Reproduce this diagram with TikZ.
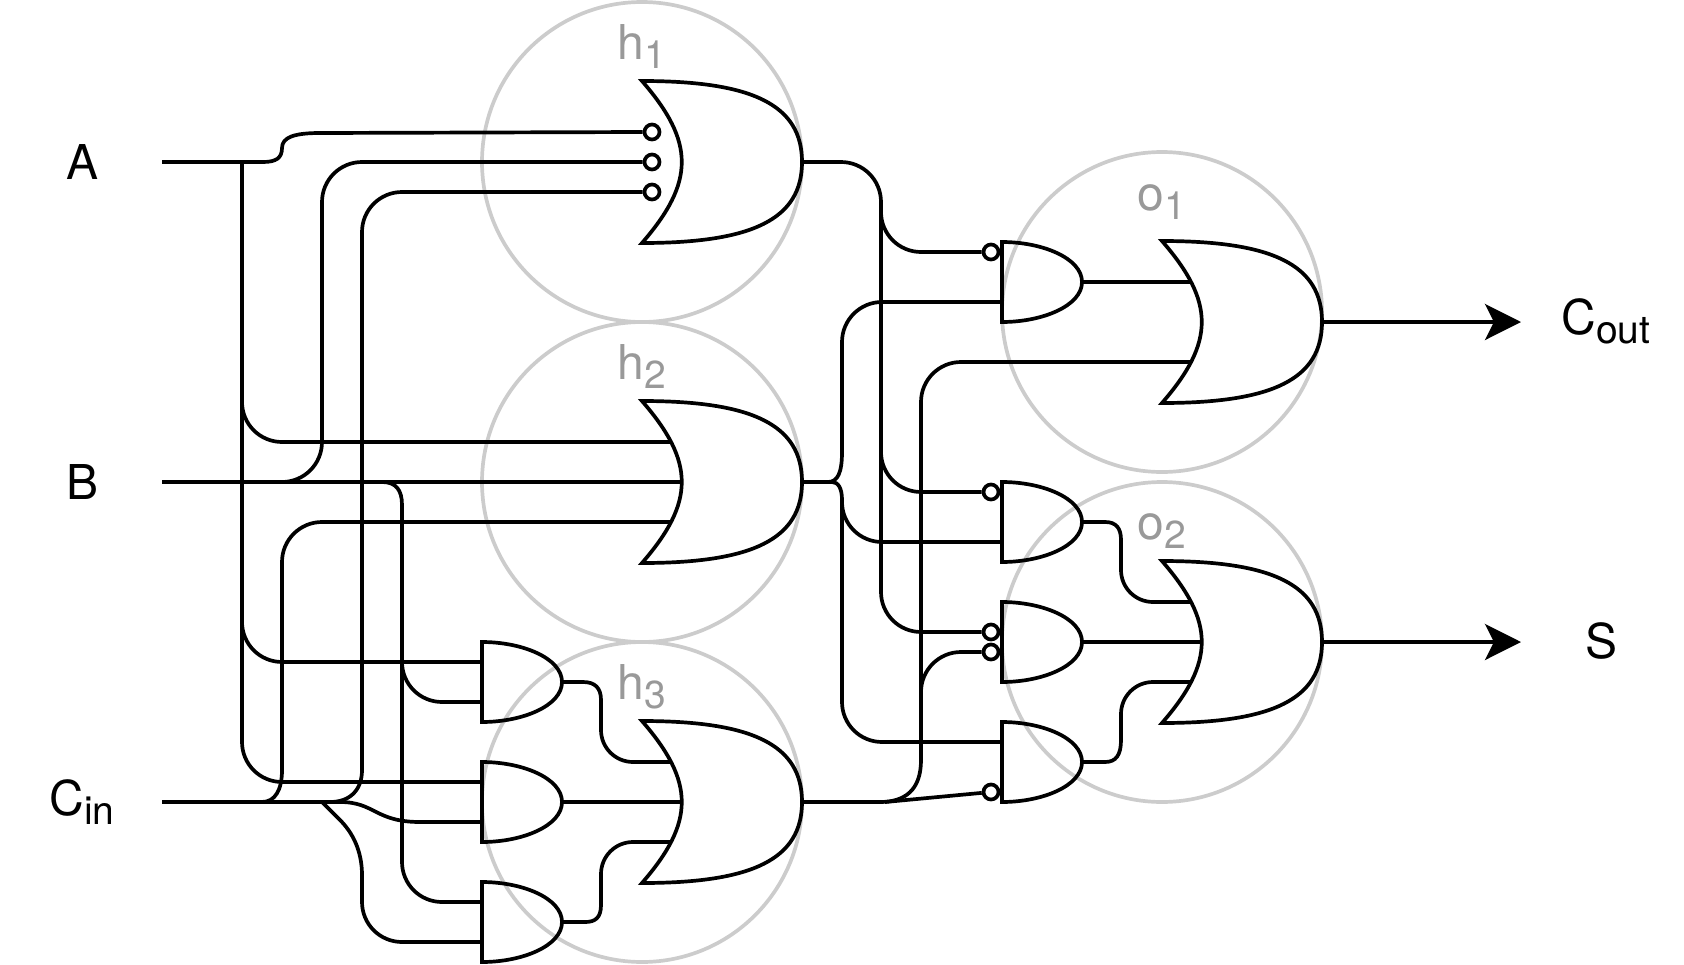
\documentclass[tikz,border=0pt]{standalone}
\usepackage{fontspec}
\setmainfont{TeX Gyre Heros}
\usetikzlibrary{arrows.meta}

\definecolor{ringgray}{HTML}{CCCCCC}
\definecolor{namegray}{HTML}{999999}

\tikzset{
	wire/.style={line width=3.7pt},
	turnwire/.style={line width=3.7pt, rounded corners=40pt},
	ring/.style={circle, draw=ringgray, line width=3.7pt, minimum size=320pt, inner sep=0pt},
	gatebox/.style={inner sep=0pt, outer sep=0pt},
	bubble/.style={circle, draw, line width=3.7pt, minimum size=15pt, inner sep=0pt},
	signal/.style={anchor=base, inner sep=0pt, font=\fontsize{48}{48}\selectfont},
	groupname/.style={signal, text=namegray},
}

\newcommand{\lowidx}[1]{\raisebox{-9pt}{\fontsize{39}{39}\selectfont #1}}

% name, centre
\newcommand{\andgate}[2]{
	\node[gatebox, minimum width=80pt, minimum height=80pt] (#1) at (#2) {};
	\begin{scope}[shift={(#2)}]
		\coordinate (#1i1) at (-40,-20);
		\coordinate (#1i2) at (-40,20);
		\draw[wire] (-40,-40) .. controls (0,-40) and (40,-24) .. (40,0)
			.. controls (40,24) and (0,40) .. (-40,40) -- cycle;
	\end{scope}
}
\newcommand{\orgate}[2]{
	\node[gatebox, minimum width=160pt, minimum height=162pt] (#1) at (#2) {};
	\begin{scope}[shift={(#2)}]
		\coordinate (#1i1) at (-50,-40);
		\coordinate (#1i2) at (-40,0);
		\coordinate (#1i3) at (-50,40);
		\draw[wire] (-80,-81) .. controls (31,-81) and (80,-57) .. (80,0)
			.. controls (80,57) and (31,81) .. (-80,81)
			.. controls (-27,20) and (-27,-20) .. (-80,-81) -- cycle;
	\end{scope}
}

\begin{document}
\begin{tikzpicture}[x=1pt,y=-1pt]
	\useasboundingbox (0,0) rectangle (1684,964);

	\node[ring] (ringh1) at (642,162) {};
	\node[ring] (ringh2) at (642,482) {};
	\node[ring] (ringh3) at (642,802) {};
	\node[ring] (ringo1) at (1162,312) {};
	\node[ring] (ringo2) at (1162,642) {};

	\node[groupname] (nameh1) at (642,59) {h\lowidx{1}};
	\node[groupname] (nameh2) at (642,379) {h\lowidx{2}};
	\node[groupname] (nameh3) at (642,699) {h\lowidx{3}};
	\node[groupname] (nameo1) at (1162,210) {o\lowidx{1}};
	\node[groupname] (nameo2) at (1162,539) {o\lowidx{2}};

	\node[signal] (nameA) at (83,179) {A};
	\node[signal] (nameB) at (83,499) {B};
	\node[signal] (nameC) at (82,815) {C\lowidx{in}};
	\node[signal] (nameCout) at (1606,334) {C\lowidx{out}};
	\node[signal] (nameS) at (1601,658) {S};

	\orgate{h1}{722,162}
	\orgate{h2}{722,482}
	\orgate{h3}{722,802}
	\orgate{o1}{1242,322}
	\orgate{o2}{1242,642}

	\andgate{a1}{522,682}
	\andgate{a2}{522,802}
	\andgate{a3}{522,922}
	\andgate{b1}{1042,282}
	\andgate{b2}{1042,522}
	\andgate{b3}{1042,642}
	\andgate{b4}{1042,762}

	\node[bubble] (h1n1) at (652,132) {};
	\node[bubble] (h1n2) at (652,162) {};
	\node[bubble] (h1n3) at (652,192) {};
	\node[bubble] (b1n) at (991,252) {};
	\node[bubble] (b2n) at (991,492) {};
	\node[bubble] (b3n1) at (991,632) {};
	\node[bubble] (b3n2) at (991,652) {};
	\node[bubble] (b4n) at (991,792) {};

	\coordinate (inA) at (162,162);
	\coordinate (inB) at (162,482);
	\coordinate (inC) at (162,802);
	\coordinate (jA) at (242,162);
	\coordinate (jB) at (402,505);
	\coordinate (jC) at (322,802);
	\coordinate (jH1) at (881,205);
	\coordinate (jH2) at (842,500);
	\coordinate (jH3) at (921,760);
	\coordinate (jH4) at (885,802);
	\coordinate (outC) at (1521,322);
	\coordinate (outS) at (1521,642);

	% inputs
	\draw[wire] (inA) -- (263,162) .. controls (276,162) and (282,158) .. (282,148)
		.. controls (282,137) and (295,133) .. (320,133) -- (h1n1.west);
	\draw[turnwire] (jA) |- (h2i1);
	\draw[turnwire] (jA) |- (a1i1);
	\draw[turnwire] (jA) |- (a2i1);

	\draw[wire] (inB) -- (h2i2);
	\draw[turnwire] (inB) -- (322,482) |- (h1n2.west);
	\draw[wire] (inB) -- (382,482) .. controls (396,482) and (402,490) .. (jB);
	\draw[turnwire] (jB) |- (a1i2);
	\draw[turnwire] (jB) |- (a3i1);

	\draw[wire] (inC) -- (262,802) .. controls (275,802) and (282,790) .. (282,770)
		[rounded corners=40pt] -- (282,522) -- (h2i3);
	\draw[wire] (inC) -- (330,802) .. controls (350,802) and (362,790) .. (362,770)
		[rounded corners=40pt] -- (362,192) -- (h1n3.west);
	\draw[wire] (jC) -- (340,802) .. controls (375,802) and (375,822) .. (420,822) -- (a2i2);
	\draw[wire] (jC) -- (340,820) .. controls (352,832) and (362,850) .. (362,875)
		[rounded corners=40pt] -- (362,942) -- (a3i2);

	% first level to h
	\draw[wire] (a1.east) -- (583,682) .. controls (595,682) and (601,688) .. (601,700)
		[rounded corners=32pt] -- (601,762) -- (h3i1);
	\draw[wire] (a2.east) -- (h3i2);
	\draw[wire] (a3.east) -- (585,922) .. controls (595,922) and (601,918) .. (601,905)
		[rounded corners=32pt] -- (601,842) -- (h3i3);

	% h to second level
	\draw[turnwire] (h1.east) -| (jH1);
	\draw[turnwire] (jH1) |- (b1n.west);
	\draw[turnwire] (jH1) |- (b2n.west);
	\draw[turnwire] (jH1) |- (b3n1.west);

	\draw[wire] (h2.east) -- (828,482) .. controls (838,482) and (842,472) .. (842,452)
		[rounded corners=40pt] -- (842,302) -- (b1i2);
	\draw[wire] (h2.east) -- (832,482) .. controls (838,482) and (842,488) .. (jH2);
	\draw[turnwire] (jH2) |- (b2i2);
	\draw[turnwire] (jH2) |- (b4i1);

	\draw[wire] (h3.east) -- (880,802) .. controls (905,802) and (921,790) .. (jH3);
	\draw[turnwire] (jH3) |- (b3n2.west);
	\draw[turnwire] (jH3) |- (o1i3);
	\draw[wire] (jH4) -- (b4n);

	% second level to o
	\draw[wire] (b1.east) -- (o1i1);
	\draw[wire] (b2.east) -- (1105,522) .. controls (1116,522) and (1121,528) .. (1121,540)
		[rounded corners=32pt] -- (1121,602) -- (o2i1);
	\draw[wire] (b3.east) -- (o2i2);
	\draw[wire] (b4.east) -- (1105,762) .. controls (1116,762) and (1121,755) .. (1121,740)
		[rounded corners=32pt] -- (1121,682) -- (o2i3);

	\draw[wire, -{Stealth[length=36pt,width=36pt,inset=9pt]}] (o1.east) -- (outC);
	\draw[wire, -{Stealth[length=36pt,width=36pt,inset=9pt]}] (o2.east) -- (outS);
\end{tikzpicture}
\end{document}
